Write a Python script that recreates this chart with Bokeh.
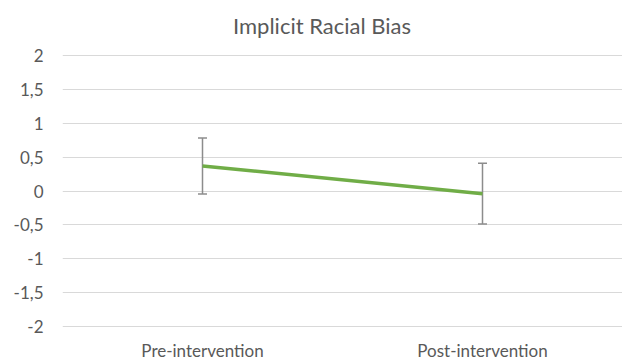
from bokeh.plotting import figure
from bokeh.models import ColumnDataSource, Whisker, TeeHead, FixedTicker, Range1d, FactorRange
from bokeh.layouts import column
from bokeh.core.properties import value
from bokeh.embed import file_html
from bokeh.resources import INLINE

title_text = "Implicit Racial Bias"
categories = ["Pre-intervention", "Post-intervention"]
means = [0.37, -0.04]
upper = [0.785, 0.41]
lower = [-0.045, -0.49]
y_ticks = [-2, -1.5, -1, -0.5, 0, 0.5, 1, 1.5, 2]
y_tick_labels = ["-2", "-1,5", "-1", "-0,5", "0", "0,5", "1", "1,5", "2"]

FONT = "Lato"
TXT = "#595959"

# --- title strip (frame aligned with the chart frame below) ---
t = figure(x_range=Range1d(0, 560), y_range=Range1d(0, 40),
           frame_width=560, frame_height=40,
           min_border_left=62, min_border_right=0, min_border_top=0, min_border_bottom=0,
           x_axis_location=None, y_axis_location=None,
           output_backend="svg", toolbar_location=None)
t.outline_line_color = None
t.xgrid.visible = False
t.ygrid.visible = False
t.text(x=[259.5], y=[15], text=[title_text], text_font=value(FONT),
       text_font_size="22px", text_color=TXT, text_align="center",
       text_baseline="alphabetic")

# --- main chart ---
src = ColumnDataSource(dict(cat=categories, mean=means, upper=upper, lower=lower))

p = figure(
    x_range=FactorRange(*categories, range_padding=0),
    y_range=Range1d(-2.02, 2.02),
    frame_width=560, frame_height=273,
    min_border_left=62, min_border_right=0, min_border_top=14, min_border_bottom=36,
    output_backend="svg", toolbar_location=None,
)
p.outline_line_color = None
p.background_fill_color = "white"
p.border_fill_color = "white"

p.xgrid.grid_line_color = None
p.ygrid.grid_line_color = "#D9D9D9"
p.ygrid.grid_line_width = 1
p.yaxis.ticker = FixedTicker(ticks=y_ticks)
p.yaxis.major_label_overrides = {tk: lb for tk, lb in zip(y_ticks, y_tick_labels)}

for ax in (p.xaxis, p.yaxis):
    ax.axis_line_color = None
    ax.major_tick_line_color = None
    ax.minor_tick_line_color = None
    ax.major_tick_out = 0
    ax.major_tick_in = 0
    ax.major_label_text_font = FONT
    ax.major_label_text_font_size = "17px"
    ax.major_label_text_color = TXT
p.yaxis.major_label_standoff = 19
p.xaxis.major_label_standoff = 12

w = Whisker(source=src, base="cat", upper="upper", lower="lower",
            line_color="#8C8C8C", line_width=1.5,
            upper_head=TeeHead(size=9, line_color="#8C8C8C", line_width=1.5),
            lower_head=TeeHead(size=9, line_color="#8C8C8C", line_width=1.5))
p.add_layout(w)

p.line(x="cat", y="mean", source=src, line_color="#70AD47", line_width=3.5)

layout = column(t, p, spacing=0)
open("out.html", "w").write(file_html(layout, INLINE))
